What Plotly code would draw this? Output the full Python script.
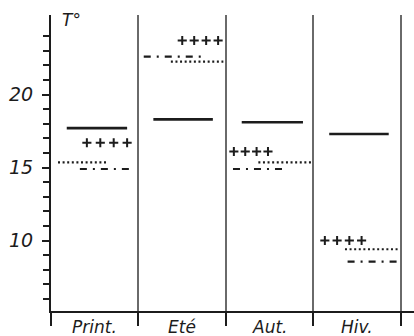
import plotly.graph_objects as go

# Seasons along the horizontal axis
seasons = ["Print.", "Eté", "Aut.", "Hiv."]

# Temperature levels (°C) for each season, one list per series
temp_solid = [17.7, 18.3, 18.1, 17.3]
temp_plus = [16.7, 23.7, 16.1, 10.0]
temp_dotted = [15.35, 22.25, 15.35, 9.4]
temp_dashdot = [14.9, 22.6, 14.9, 8.55]

# Axis ticks
y_major = [10, 15, 20]
y_minor = [6, 7, 8, 9, 11, 12, 13, 14, 16, 17, 18, 19, 21, 22, 23, 24]

# Horizontal extent of each segment inside its season column (fractions)
SPANS = {
    "solid": [(0.18, 0.87), (0.17, 0.85), (0.18, 0.88), (0.18, 0.86)],
    "plus": [(0.41, 0.87), (0.50, 0.91), (0.09, 0.48), (0.13, 0.55)],
    "dotted": [(0.08, 0.63), (0.37, 0.97), (0.37, 0.98), (0.36, 0.97)],
    "dashdot": [(0.33, 0.95), (0.06, 0.74), (0.08, 0.70), (0.39, 0.97)],
}

INK = "#1c1c1c"
W, H = 414, 336
ML, MR, MT, MB = 51, 0, 15, 25
X_MAX = 4.149
Y_RANGE = [5.17, 25.45]


def segments(values, spans):
    xs, ys = [], []
    for i, (v, (a, b)) in enumerate(zip(values, spans)):
        xs += [i + a, i + b, None]
        ys += [v, v, None]
    return xs, ys


fig = go.Figure()

for values, key, dash, width in [
    (temp_solid, "solid", "solid", 2.6),
    (temp_dotted, "dotted", "2px,2.6px", 2.2),
    (temp_dashdot, "dashdot", "7px,6px,2px,6px", 2.2),
]:
    xs, ys = segments(values, SPANS[key])
    fig.add_trace(go.Scatter(
        x=xs, y=ys, mode="lines",
        line=dict(color=INK, width=width, dash=dash),
        showlegend=False, hoverinfo="skip",
    ))

# Row of four "+" marks per season
px, py = [], []
for i, (v, (a, b)) in enumerate(zip(temp_plus, SPANS["plus"])):
    for k in range(4):
        px.append(i + a + (b - a) * k / 3)
        py.append(v)
fig.add_trace(go.Scatter(
    x=px, y=py, mode="markers",
    marker=dict(symbol="cross-thin", size=6.5, line=dict(color=INK, width=2)),
    showlegend=False, hoverinfo="skip",
))

# Season names under each column
for i, name in enumerate(seasons):
    fig.add_annotation(
        x=i + 0.5, y=0, xref="x", yref="paper",
        text=name, showarrow=False, xanchor="center", yanchor="top",
        yshift=-4,
        font=dict(family="DejaVu Sans", size=17, color=INK, style="italic"),
    )

# Axis title at the top of the temperature axis
fig.add_annotation(
    x=(60 - ML) / (W - ML - MR), y=1 - (20.5 - MT) / (H - MT - MB),
    xref="paper", yref="paper", text="T°", showarrow=False,
    xanchor="left", yanchor="middle",
    font=dict(family="DejaVu Sans", size=17, color=INK, style="italic"),
)

fig.update_xaxes(
    range=[0, X_MAX], tickmode="array", tickvals=[0, 1, 2, 3, 4],
    showticklabels=False, ticks="outside", ticklen=13, tickwidth=1.8,
    tickcolor=INK, showline=True, linecolor=INK, linewidth=2,
    showgrid=True, gridcolor="#6a6a6a", gridwidth=1.6, zeroline=False,
)
fig.update_yaxes(
    range=Y_RANGE, tickmode="array", tickvals=y_major,
    ticktext=[str(v) for v in y_major],
    ticks="outside", ticklen=7, tickwidth=1.8, tickcolor=INK,
    ticklabelstandoff=5,
    tickfont=dict(family="DejaVu Sans", size=19, color=INK, style="italic"),
    minor=dict(tickmode="array", tickvals=y_minor, ticks="outside",
               ticklen=6, tickwidth=1.8, tickcolor=INK, showgrid=False),
    showline=True, linecolor=INK, linewidth=2, showgrid=False,
    zeroline=False,
)

fig.update_layout(
    width=W, height=H,
    margin=dict(l=ML, r=MR, t=MT, b=MB),
    paper_bgcolor="white", plot_bgcolor="white",
)

fig.write_html("out.html")
